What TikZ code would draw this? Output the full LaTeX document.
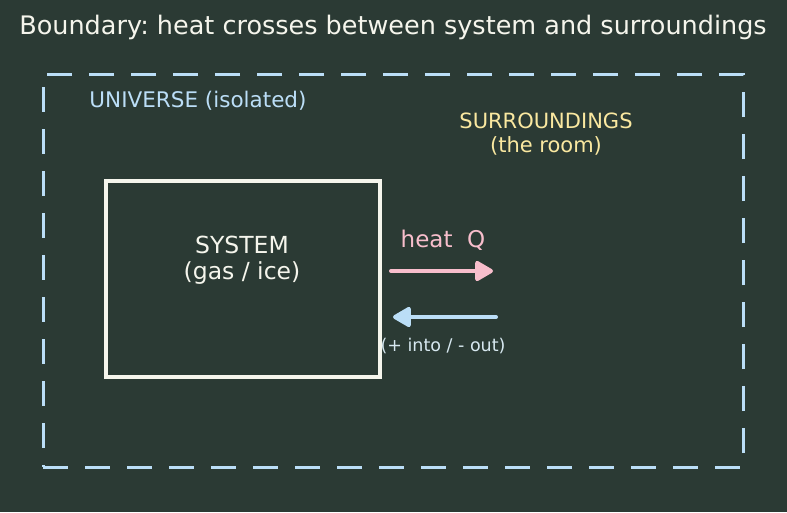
\documentclass[tikz,border=0pt]{standalone}
\usepackage{fontspec}
\setmainfont{DejaVu Sans}
\usetikzlibrary{arrows.meta, positioning}
\frenchspacing
\definecolor{bgdark} {RGB}{ 43, 58, 52}
\definecolor{ublue}  {RGB}{187,222,247}
\definecolor{syswht} {RGB}{245,245,236}
\definecolor{surylw} {RGB}{250,232,160}
\definecolor{heatpk} {RGB}{248,190,204}
\definecolor{notegr} {RGB}{215,232,240}
\tikzset{
  % Universe boundary (dashed)
  UBox/.style={rectangle,draw=ublue,line width=3pt,
               dash pattern=on 25pt off 17pt,
               minimum width=700pt,minimum height=393pt,inner sep=0pt},
  % System box
  SBox/.style={rectangle,draw=syswht,line width=4pt,
               minimum width=274pt,minimum height=196pt,inner sep=0pt},
  % Text labels
  Lbl/.style={align=center,inner sep=0pt,font=\fontsize{#1}{25}\selectfont},
  Lbl/.default=21,
  % Heat arrows
  HArr/.style={-{Triangle[length=20pt,width=22pt,round]},line width=4pt,
               line cap=round,color=#1},
}
\begin{document}
\begin{tikzpicture}[x=1pt,y=-1pt]
  \fill[bgdark] (0,0) rectangle (787,512);
  \useasboundingbox (0,0) rectangle (787,512);
  % Title
  \node[Lbl=25.5,text=syswht] (title) at (393,27)
        {Boundary: heat crosses between system and surroundings};
  % Universe
  \node[UBox] (univ) at (393,270.5) {};
  \node[Lbl=21.5,text=ublue] (ulbl) at (198,101) {UNIVERSE (isolated)};
  % Surroundings
  \node[Lbl,text=surylw] (surr) at (546,134)
        {SURROUNDINGS\\[-1pt](the room)};
  % System
  \node[SBox] (sys) at (243,279) {};
  \node[Lbl=23.5,text=syswht] (slbl) at (242,260) {SYSTEM\\[1pt](gas / ice)};
  % Heat flow
  \node[Lbl=23,text=heatpk] (heat) at (443,240) {heat\ \ Q};
  \coordinate (qinA) at (391,271);
  \coordinate (qinB) at (493,271);
  \coordinate (qoutA) at (496,317);
  \coordinate (qoutB) at (393,317);
  \draw[HArr=heatpk] (qinA) -- (qinB);
  \draw[HArr=ublue] (qoutA) -- (qoutB);
  \node[Lbl=17.5,text=notegr] (sign) at (443,346) {(+ into / - out)};
\end{tikzpicture}
\end{document}
